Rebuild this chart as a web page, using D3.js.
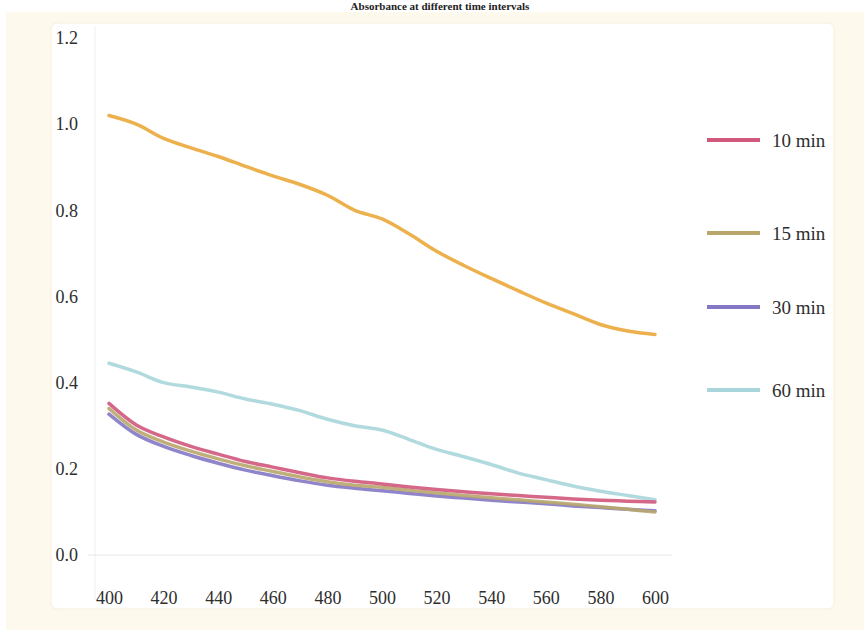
<!DOCTYPE html>
<html>
<head>
<meta charset="utf-8">
<script src="https://cdn.jsdelivr.net/npm/d3@7"></script>
<style>
  body { margin: 0; background: #ffffff; }
  text { font-family: "Liberation Serif", "DejaVu Serif", serif; }
</style>
</head>
<body>
<script>
// Data
const wavelengths = [400, 410, 420, 430, 440, 450, 460, 470, 480, 490, 500,
                     510, 520, 530, 540, 550, 560, 570, 580, 590, 600];
const xTicks = [400, 420, 440, 460, 480, 500, 520, 540, 560, 580, 600];
const yTicks = [0.0, 0.2, 0.4, 0.6, 0.8, 1.0, 1.2];

const seriesNames = ["0 min", "10 min", "15 min", "30 min", "60 min"];
const legendNames = ["10 min", "15 min", "30 min", "60 min"];

const values0 = [1.020, 1.000, 0.967, 0.945, 0.925, 0.902, 0.880, 0.860, 0.835, 0.800, 0.780,
                 0.745, 0.705, 0.672, 0.642, 0.613, 0.585, 0.560, 0.535, 0.520, 0.512];
const values10 = [0.352, 0.302, 0.274, 0.252, 0.234, 0.217, 0.204, 0.191, 0.179, 0.171, 0.165,
                  0.158, 0.152, 0.147, 0.142, 0.138, 0.134, 0.130, 0.127, 0.125, 0.123];
const values15 = [0.340, 0.290, 0.262, 0.241, 0.223, 0.207, 0.194, 0.181, 0.170, 0.162, 0.157,
                  0.150, 0.144, 0.138, 0.133, 0.128, 0.123, 0.118, 0.112, 0.106, 0.100];
const values30 = [0.327, 0.280, 0.252, 0.231, 0.213, 0.197, 0.184, 0.172, 0.162, 0.155, 0.149,
                  0.143, 0.137, 0.132, 0.127, 0.123, 0.119, 0.114, 0.110, 0.106, 0.103];
const values60 = [0.445, 0.425, 0.400, 0.390, 0.378, 0.362, 0.350, 0.335, 0.315, 0.300, 0.290,
                  0.268, 0.245, 0.228, 0.210, 0.190, 0.175, 0.160, 0.148, 0.138, 0.128];

// Styles
const WIDTH = 864;
const HEIGHT = 630;
const COLORS = {
  "0 min": "#eaa83a",
  "10 min": "#d0587c",
  "15 min": "#b8a66c",
  "30 min": "#8478c4",
  "60 min": "#a9d6da"
};
const LEGEND_Y = [140, 233, 307, 390];
const TEXT_COLOR = "#2e2e2e";

var svg = d3.select("body").append("svg")
  .attr("width", WIDTH)
  .attr("height", HEIGHT);

// Title squeezed into the strip above the box
svg.append("text")
  .attr("x", 440)
  .attr("y", 10)
  .attr("text-anchor", "middle")
  .attr("font-size", 11)
  .attr("font-weight", "bold")
  .attr("fill", "#222")
  .text("Absorbance at different time intervals");

// Cream outer box and white inner panel
svg.append("rect")
  .attr("x", 6).attr("y", 12)
  .attr("width", WIDTH - 6).attr("height", HEIGHT - 12)
  .attr("fill", "#fdf9ec");

svg.append("rect")
  .attr("x", 51).attr("y", 23)
  .attr("width", 783).attr("height", 586)
  .attr("rx", 6)
  .attr("fill", "#ffffff")
  .attr("stroke", "#f9eedc");

var x = d3.scaleLinear().domain([400, 600]).range([109, 655]);
var y = d3.scaleLinear().domain([0, 1.2]).range([555, 38]);

// Faint axis lines
svg.append("line")
  .attr("x1", 95).attr("x2", 95)
  .attr("y1", 26).attr("y2", 600)
  .attr("stroke", "#eef0f4");

svg.append("line")
  .attr("x1", 88).attr("x2", 672)
  .attr("y1", y(0)).attr("y2", y(0))
  .attr("stroke", "#e6e6e6");

// Y axis labels
var yAxis = d3.axisLeft(y)
  .tickValues(yTicks)
  .tickFormat(d3.format(".1f"))
  .tickSize(0)
  .tickPadding(0);

var yG = svg.append("g")
  .attr("transform", "translate(78,0)")
  .call(yAxis);
yG.select(".domain").remove();
yG.selectAll("text")
  .attr("font-family", "Liberation Serif, serif")
  .attr("font-size", 18)
  .attr("fill", TEXT_COLOR);

// X axis labels
var xAxis = d3.axisBottom(x)
  .tickValues(xTicks)
  .tickFormat(d3.format("d"))
  .tickSize(0)
  .tickPadding(0);

var xG = svg.append("g")
  .attr("transform", "translate(0,591)")
  .call(xAxis);
xG.select(".domain").remove();
xG.selectAll("text")
  .attr("font-family", "Liberation Serif, serif")
  .attr("font-size", 18)
  .attr("fill", TEXT_COLOR);

// Lines
var seriesValues = [values0, values10, values15, values30, values60];
var drawOrder = [0, 4, 3, 2, 1];

var line = d3.line()
  .x(function(d) { return x(d[0]); })
  .y(function(d) { return y(d[1]); })
  .curve(d3.curveCatmullRom);

for (let k = 0; k < drawOrder.length; k++)
{
  let i = drawOrder[k];
  let pts = wavelengths.map(function(w, j) { return [w, seriesValues[i][j]]; });
  svg.append("path")
    .datum(pts)
    .attr("class", "series")
    .attr("fill", "none")
    .attr("stroke", COLORS[seriesNames[i]])
    .attr("stroke-width", 3.5)
    .attr("stroke-linejoin", "round")
    .attr("stroke-linecap", "round")
    .attr("opacity", 0.9)
    .attr("d", line);
}

// Legend
var legend = svg.append("g").attr("class", "legend");
for (let i = 0; i < legendNames.length; i++)
{
  let ly = LEGEND_Y[i];
  legend.append("line")
    .attr("x1", 707).attr("x2", 760)
    .attr("y1", ly).attr("y2", ly)
    .attr("stroke", COLORS[legendNames[i]])
    .attr("stroke-width", 4);
  legend.append("text")
    .attr("x", 772)
    .attr("y", ly)
    .attr("dy", "0.35em")
    .attr("font-size", 19)
    .attr("fill", TEXT_COLOR)
    .text(legendNames[i]);
}
</script>
</body>
</html>
